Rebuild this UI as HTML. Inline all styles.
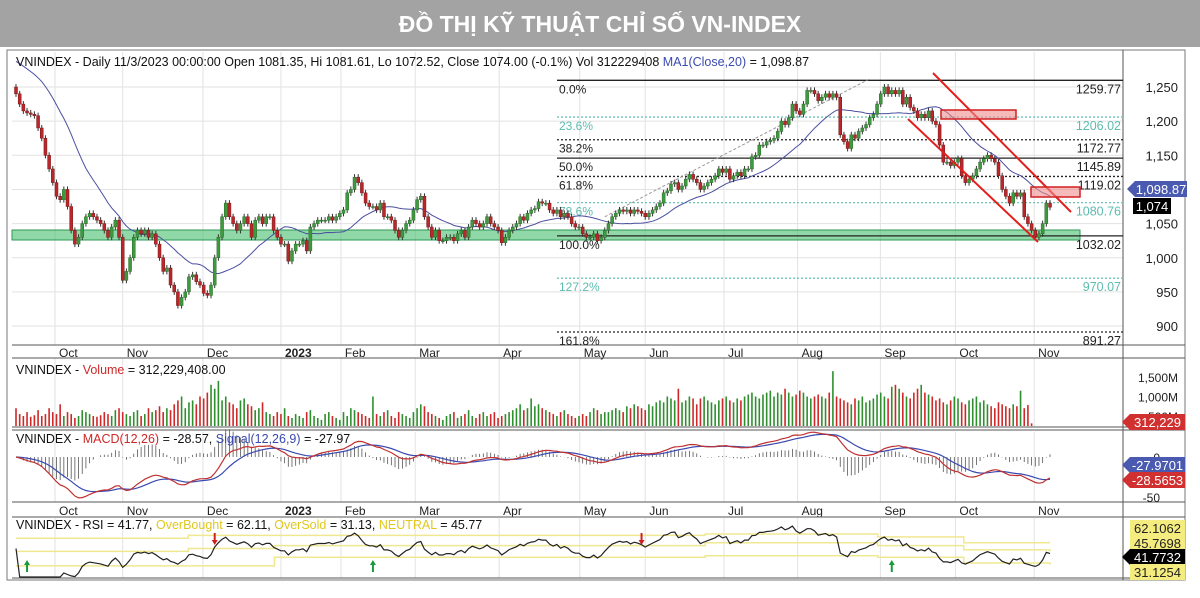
<!DOCTYPE html>
<html><head><meta charset="utf-8"><style>
html,body{margin:0;padding:0;background:#fff;}
svg{display:block;font-family:"Liberation Sans",sans-serif;}
</style></head><body>
<svg id="chart" width="1200" height="598" viewBox="0 0 1200 598" xmlns="http://www.w3.org/2000/svg">
<rect x="0" y="0" width="1200" height="47" fill="#a3a3a3"/>
<text x="600" y="32" text-anchor="middle" font-size="23" font-weight="bold" fill="#fff" font-family="'Liberation Sans','Noto Sans CJK SC',sans-serif">ĐỒ THỊ KỸ THUẬT CHỈ SỐ VN-INDEX</text>
<rect x="7" y="50" width="1178" height="530" fill="#fff" stroke="#777" stroke-width="1"/>
<g id="g"></g>
</svg>
<script>
const closes=[1240,1225,1215,1212,1210,1208,1190,1175,1150,1130,1110,1090,1085,1100,1075,
1040,1020,1030,1050,1060,1065,1060,1055,1050,1040,1030,1045,1055,1030,967,
980,1000,1030,1040,1035,1040,1030,1035,1020,1000,980,985,960,950,930,942,
950,972,975,965,960,948,945,960,1000,1030,1060,1080,1060,1050,1040,1050,1060,1050,1030,1055,1060,1050,1060,1060,1040,1030,1020,1020,995,1010,1020,1020,1025,1010,1045,
1050,1055,1055,1055,1060,1055,1060,1065,1070,1095,1100,1118,1110,1095,1080,1075,1075,1070,1080,1060,1060,1055,1040,1030,1040,1050,1055,1070,1085,1090,1060,1045,1030,1040,1025,1025,1030,1030,1025,1035,1040,1030,1045,1055,1050,1045,1050,1060,1050,1045,1040,1022,1030,1040,1045,1050,1060,1055,1065,1070,1072,1082,1080,1080,1070,1065,1070,1060,1065,1060,1050,1045,1045,1035,1030,1030,1035,1025,1030,1040,
1050,1060,1065,1070,1068,1070,1065,1070,1068,1065,1060,1065,1070,1075,1080,1095,1098,1108,1110,1100,1105,1115,1122,1115,1110,1100,1105,1110,1115,1120,1130,1125,1130,1115,1120,1125,1120,1130,1130,1148,1150,1165,1165,1170,1172,1175,1185,1200,1195,1205,1225,1215,1210,1225,1245,1245,1240,1230,1235,1240,1235,1240,1235,1180,1170,1160,1180,1175,1185,1190,1195,1205,1210,1225,1240,1250,1240,1245,1240,1245,1225,1235,1220,1215,1205,1210,1205,1215,1200,1195,1165,1140,1140,1135,1140,1145,1120,1110,1115,1120,1130,1140,1145,1150,1145,1140,1120,1100,1090,1080,1095,1090,1095,1060,1050,1040,1030,1035,1050,1080,1074];
const volumes=[700,550,500,600,480,520,650,500,550,700,600,550,800,500,600,550,450,500,650,600,550,500,480,520,600,550,500,650,700,600,
550,500,600,650,500,550,700,600,650,750,600,700,650,800,900,1000,
700,850,900,800,1000,950,1100,1300,1200,1400,900,1000,850,800,700,900,950,800,750,650,700,850,600,550,500,600,550,700,500,450,550,500,450,600,650,
500,450,400,550,600,500,450,400,600,500,700,650,600,550,500,450,1000,550,500,600,650,500,450,600,550,500,450,600,700,800,750,600,550,500,450,400,500,550,600,450,500,550,650,500,450,550,600,500,550,600,450,500,550,600,650,700,800,650,700,950,750,800,700,650,600,550,500,600,650,550,500,450,500,550,500,600,700,650,550,600,
600,650,700,650,600,750,700,800,750,700,650,800,750,850,900,850,1000,950,900,1200,850,900,1000,950,800,950,1000,900,850,800,900,950,1000,900,850,950,900,1000,1050,1100,1000,950,1050,1100,1150,1000,1100,1050,1200,1100,1000,1050,1150,1100,1000,950,1000,1050,1000,950,1100,1650,1000,950,900,850,800,950,900,1000,850,900,950,1050,1100,1000,950,1250,1300,1200,1100,1000,950,1100,1200,1300,1100,1050,1000,900,950,850,800,900,1000,950,850,800,900,950,1000,850,900,800,750,700,850,800,750,700,800,750,1150,700,780,312];
const monthLabels=["Oct","Nov","Dec","2023","Feb","Mar","Apr","May","Jun","Jul","Aug","Sep","Oct","Nov"];
const monthIdx=[10.6,29,50.8,72,88.3,108.5,131.3,153.2,171,192.4,212.4,234.9,255.3,276.7];
const priceTicks=[1250,1200,1150,1100,1050,1000,950,900];
const fibPct=["0.0%","23.6%","38.2%","50.0%","61.8%","78.6%","100.0%","127.2%","161.8%"];
const fibVal=[1259.77,1206.02,1172.77,1145.89,1119.02,1080.76,1032.02,970.07,891.27];
const volTicks=[1500,1000,500];
const macdTicks=[0,-50];
const obLevels=[55,55,57,57,57,57,57,57,58,58,56,52,52];
const neLevels=[46,46,48,50,50,50,50,50,52,52,50,47,46];
const osLevels=[36,36,36,42,42,42,42,42,43,43,42,38,37];
const buyArrows=[3,97,238];
const sellArrows=[54,170];

const NS="http://www.w3.org/2000/svg";
const G=document.getElementById('g');
function el(t,a,p){const e=document.createElementNS(NS,t);for(const k in a)e.setAttribute(k,a[k]);(p||G).appendChild(e);return e;}
const N=closes.length;
const X0=16,X1=1050,AX=1123;
const xs=i=>X0+i*(X1-X0)/(N-1);
const yP=p=>87+(1250-p)*0.683;
const yV=v=>435.5-v*0.039;
const yM=m=>457-m*0.8;
const yR=r=>528+(62.11-r)*1.4526;

for(const t of priceTicks){const l=el('line',{x1:12,x2:AX,y1:yP(t),y2:yP(t),stroke:'#e2e2e2'});
}
monthIdx.forEach((m,k)=>{
 for(const [a,b] of [[52,345],[358,427],[432,502],[518,578]]){const l=el('line',{x1:xs(m),x2:xs(m),y1:a,y2:b,stroke:'#e2e2e2'});
 }
 for(const yy of [357,515]){const t=el('text',{x:xs(m)+4,y:yy,'font-size':12,fill:'#222','font-weight':monthLabels[k]==='2023'?'bold':'normal'});t.textContent=monthLabels[k];
 }
});
for(const yy of [345,358,427,430,502,517,578]){const l=el('line',{x1:12,x2:1185,y1:yy,y2:yy,stroke:'#555'});}
const ax=el('line',{x1:AX,x2:AX,y1:50,y2:580,stroke:'#555'});

const band=el('rect',{x:12,y:230,width:1068,height:10,fill:'rgba(70,190,110,0.6)',stroke:'#2e9a55','stroke-width':1});


fibVal.forEach((v,k)=>{
 const solid=[0,3,6].includes(k), teal=[1,5,7].includes(k);
 const col=teal?'#6cc5b8':'#222';
 const l=el('line',{x1:557,x2:AX,y1:yP(v),y2:yP(v),stroke:col,'stroke-width':1.3,'stroke-dasharray':solid?'':'2,2'});
 
 const t=el('text',{x:559,y:yP(v)+13,'font-size':12,fill:teal?'#5cbcae':'#222'});t.textContent=fibPct[k];
 
 const t2=el('text',{x:AX-2,y:yP(v)+13,'font-size':12.5,'text-anchor':'end',fill:teal?'#5cbcae':'#222'});t2.textContent=v.toFixed(2);
 
});
const tl=el('line',{x1:xs(160),y1:yP(1060),x2:xs(232),y2:yP(1262),stroke:'#999','stroke-dasharray':'3,2'});


let pts=[];for(let i=0;i<N;i++){let s=0,c=0;for(let j=Math.max(0,i-19);j<=i;j++){s+=closes[j];c++;}const ma=i<19?(s+(20-c)*1290)/20:s/20;pts.push(xs(i).toFixed(1)+','+yP(ma).toFixed(1));}
const ma=el('polyline',{points:pts.join(' '),fill:'none',stroke:'#4a4fa0','stroke-width':1});


for(let i=0;i<N;i++){
 const o=i?closes[i-1]:closes[0]+10,c=closes[i];const up=c>=o;
 const hi=Math.max(o,c),lo=Math.min(o,c);
 const x=xs(i);
 const w=el('line',{x1:x,x2:x,y1:yP(hi)-3,y2:yP(lo)+3,stroke:'#333'});
 
 const r=el('rect',{x:x-1.5,y:yP(hi),width:3,height:Math.max(1,yP(lo)-yP(hi)),fill:up?'#3f9a3f':'#b8272b',stroke:up?'#2a6a2a':'#7a1a1a','stroke-width':0.5});
 
}
for(const [a,b,c,d] of [[933,73,1071,212],[908,119,1038,242]]){const l=el('line',{x1:a,y1:b,x2:c,y2:d,stroke:'#e0201c','stroke-width':2});}
for(const [a,b,c,d] of [[941,110,1016,119],[1031,187,1080,197]]){const r=el('rect',{x:a,y:b,width:c-a,height:d-b,fill:'rgba(240,140,140,0.6)',stroke:'#d02020','stroke-width':1.5});}

for(const t of priceTicks){const tx=el('text',{x:1178,y:yP(t)+5,'font-size':13,'text-anchor':'end',fill:'#222'});tx.textContent=t.toLocaleString('en-US');
 }
function tag(x,y,w,txt,bg,fg,name,arrow){
 const p=arrow?`M${x-8},${y} L${x},${y-8} L${x+w},${y-8} L${x+w},${y+8} L${x},${y+8} Z`:`M${x},${y-8} L${x+w},${y-8} L${x+w},${y+8} L${x},${y+8} Z`;
 const b=el('path',{d:p,fill:bg});
 const t=el('text',{x:x+w/2,y:y+5,'font-size':13,'text-anchor':'middle',fill:fg});t.textContent=txt;
}
tag(1135,189,52,'1,098.87','#4a5ab0','#fff','ma-value-tag',true);
tag(1133,206,38,'1,074','#000','#fff','last-price-tag',false);

for(let i=0;i<Math.min(N,volumes.length);i++){
 const up=i?closes[i]>=closes[i-1]:false;const yt=yV(volumes[i]);if(yt>=426)continue;
 const r=el('rect',{x:xs(i)-0.8,y:yt,width:1.6,height:426-yt,fill:up?'#2f8f2f':'#d02828'});
 }
for(const t of volTicks){const tx=el('text',{x:1178,y:yV(t)+5,'font-size':12,'text-anchor':'end',fill:'#222'});tx.textContent=t.toLocaleString('en-US')+'M';
 }
tag(1130,422,55,'312,229','#d03030','#fff','volume-value-tag',true);

function ema(a,n){const k=2/(n+1);let o=[],e=a[0];for(const v of a){e=v*k+e*(1-k);o.push(e);}return o;}
const e12=ema(closes,12),e26=ema(closes,26);const macd=e12.map((v,i)=>v-e26[i]);const sig=ema(macd,9);
for(let i=0;i<N;i++){const h=(macd[i]-sig[i])*2;const l=el('line',{x1:xs(i),x2:xs(i),y1:yM(0),y2:yM(h),stroke:'#555','stroke-width':0.8});
 }
const cl=(y,a,b)=>Math.max(a,Math.min(b,y));
const pl=(arr,f,col,name,a,b)=>{const l=el('polyline',{points:arr.map((v,i)=>xs(i).toFixed(1)+','+cl(f(v),a,b).toFixed(1)).join(' '),fill:'none',stroke:col,'stroke-width':1.2});};
pl(sig,yM,'#3a4ab0','macd-signal-line',432,502);
pl(macd,yM,'#c03030','macd-line',432,502);
for(const t of macdTicks){const tx=el('text',{x:1160,y:yM(t)+5,'font-size':12,'text-anchor':'end',fill:'#222'});tx.textContent=t;
 }
tag(1130,465,55,'-27.9701','#4a5ab0','#fff','signal-value-tag',true);
tag(1130,480,55,'-28.5653','#d03030','#fff','macd-value-tag',true);

let ag=0,al=0;const rsi=[48];for(let i=1;i<N;i++){const d=closes[i]-closes[i-1];const g=Math.max(d,0),lo=Math.max(-d,0);ag=(ag*13+g)/14;al=(al*13+lo)/14;const r=al===0?60:100-100/(1+ag/al);rsi.push(48+(r-50)*0.45);}
const bandLine=(lv,name)=>{const step=(N-1)/(lv.length-1);let p=[];lv.forEach((v,k)=>{if(k){p.push(xs(k*step).toFixed(1)+','+yR(lv[k-1]).toFixed(1));}p.push(xs(k*step).toFixed(1)+','+yR(v).toFixed(1));});
 const l=el('polyline',{points:p.join(' '),fill:'none',stroke:'#f0e890','stroke-width':1.5});};
bandLine(obLevels,'overbought-line');bandLine(neLevels,'neutral-line');bandLine(osLevels,'oversold-line');
pl(rsi,yR,'#222','rsi-line',519,577);
for(const i of buyArrows){const a=el('path',{d:`M${xs(i)},${560} l-3,5 h2 v7 h2 v-7 h2 z`,fill:'#1a9a3a'});}
for(const i of sellArrows){const a=el('path',{d:`M${xs(i)},${545} l-3,-5 h2 v-7 h2 v7 h2 z`,fill:'#d02020'});}
tag(1130,528,55,'62.1062','#f5ec80','#222','overbought-value-tag',false);
tag(1130,543,55,'45.7698','#f5ec80','#222','neutral-value-tag',false);
tag(1130,557,55,'41.7732','#000','#fff','rsi-value-tag',true);
tag(1130,572,55,'31.1254','#f5ec80','#222','oversold-value-tag',false);

function header(y,parts,name){const t=el('text',{x:16,y:y,'font-size':12.5,fill:'#111'});
 for(const [s,c] of parts){const sp=el('tspan',{fill:c},t);sp.textContent=s;}}
header(66,[['VNINDEX - Daily 11/3/2023 00:00:00 Open 1081.35, Hi 1081.61, Lo 1072.52, Close 1074.00 (-0.1%) Vol 312229408 ','#111'],['MA1(Close,20)','#3a4ab0'],[' = 1,098.87','#111']],'price-header');
header(374,[['VNINDEX - ','#111'],['Volume','#d02828'],[' = 312,229,408.00','#111']],'volume-header');
header(443,[['VNINDEX - ','#111'],['MACD(12,26)','#d02828'],[' = -28.57, ','#111'],['Signal(12,26,9)','#3a4ab0'],[' = -27.97','#111']],'macd-header');
header(529,[['VNINDEX - RSI = 41.77, ','#111'],['OverBought','#e0c820'],[' = 62.11, ','#111'],['OverSold','#e0c820'],[' = 31.13, ','#111'],['NEUTRAL','#e0c820'],[' = 45.77','#111']],'rsi-header');
</script>
</body></html>
